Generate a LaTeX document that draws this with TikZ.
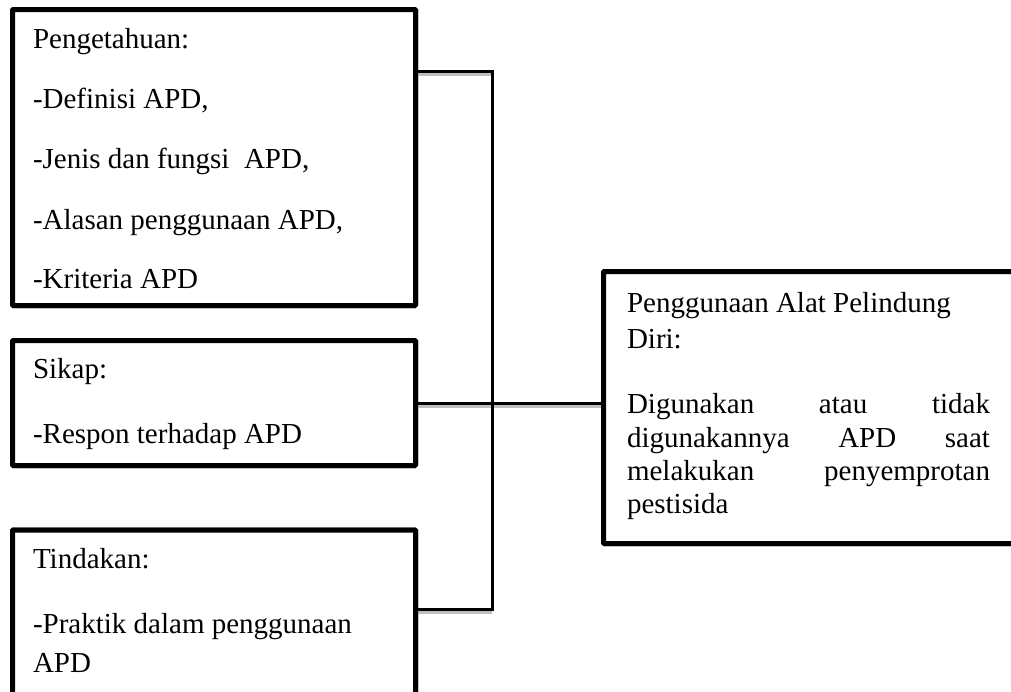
\documentclass[tikz,border=0pt]{standalone}
\usepackage{fontspec}
\setmainfont{Liberation Serif}
\begin{document}
\begin{tikzpicture}[x=1pt,y=-1pt,
  box/.style={draw=black,line width=5pt,rectangle,inner sep=0pt,outer sep=0pt,rounded corners=1pt,fill=white},
  link/.style={draw=black,line width=3pt},
  shade/.style={draw=black!25,line width=3pt},
  txt/.style={anchor=base west,inner sep=0pt,outer sep=0pt,font=\fontsize{29}{35}\selectfont}]
\useasboundingbox (0,0) rectangle (1011,691);
% junction coordinates
\coordinate (j1) at (492,71);
\coordinate (j3) at (492,609);
% box shapes (placed, drawn later over connectors)
\path node[box,minimum width=403pt,minimum height=296pt] (b1) at (214,157.5) {};
\path node[box,minimum width=403pt,minimum height=125pt] (b2) at (214,403) {};
\path node[box,minimum width=403pt,minimum height=200pt] (b3) at (214,630) {};
\path node[box,minimum width=430pt,minimum height=272pt] (b4) at (818.5,407.5) {};
% shadows of connectors
\draw[shade] ([yshift=-3pt]b1.east |- j1) -- ([yshift=-3pt]j1);
\draw[shade] ([yshift=-3pt]b2.east) -- ([yshift=-3pt]b4.west |- b2.east);
\draw[shade] ([yshift=-3pt]b3.east |- j3) -- ([yshift=-3pt]j3);
% connectors
\draw[link] (b1.east |- j1) -- (j1) -- (j3) -- (b3.east |- j3);
\draw[link] (b2.east) -- (b4.west |- b2.east);
% boxes redrawn on top
\node[box,minimum width=403pt,minimum height=296pt] at (b1.center) {};
\node[box,minimum width=403pt,minimum height=125pt] at (b2.center) {};
\node[box,minimum width=403pt,minimum height=200pt] at (b3.center) {};
\node[box,minimum width=430pt,minimum height=272pt] at (b4.center) {};
% texts box 1
\node[txt] (t11) at (33,48) {Pengetahuan:};
\node[txt] (t12) at (33,108) {-Definisi APD,};
\node[txt] (t13) at (33,168) {-Jenis dan fungsi\ \ APD,};
\node[txt] (t14) at (33,229) {-Alasan penggunaan APD,};
\node[txt] (t15) at (33,288) {-Kriteria APD};
% box 2
\node[txt] (t21) at (33,378) {Sikap:};
\node[txt] (t22) at (33,443) {-Respon terhadap APD};
% box 3
\node[txt] (t31) at (33,568) {Tindakan:};
\node[txt] (t32) at (33,633) {-Praktik dalam penggunaan};
\node[txt] (t33) at (33,672) {APD};
% box 4
\node[txt] (t41) at (627,312) {Penggunaan Alat Pelindung};
\node[txt] (t42) at (627,348) {Diri:};
\node[txt] (t43) at (627,413) {\hbox to 363pt{Digunakan\hfill atau\hfill tidak}};
\node[txt] (t44) at (627,447) {\hbox to 363pt{digunakannya\hfill APD\hfill saat}};
\node[txt] (t45) at (627,480) {\hbox to 363pt{melakukan\hfill penyemprotan}};
\node[txt] (t46) at (627,513) {pestisida};
\end{tikzpicture}
\end{document}
